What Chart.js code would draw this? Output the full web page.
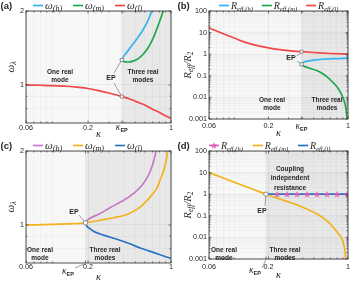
<!DOCTYPE html>
<html>
<head>
<meta charset="utf-8">
<script src="https://cdn.jsdelivr.net/npm/chart.js@4.4.1/dist/chart.umd.min.js"></script>
<style>
  body { margin: 0; background: #fff; }
  #wrap { position: relative; width: 354px; height: 281px; }
  canvas { position: absolute; }
</style>
</head>
<body>
<div id="wrap">
  <canvas id="chart-a" width="177" height="140" style="left:0;top:0"></canvas>
  <canvas id="chart-b" width="177" height="140" style="left:177px;top:0"></canvas>
  <canvas id="chart-c" width="177" height="141" style="left:0;top:140px"></canvas>
  <canvas id="chart-d" width="177" height="141" style="left:177px;top:140px"></canvas>
</div>
<script>
'use strict';

// *********** DATA ****************

// tick positions + labels (log axes)
let kappaTicks = [0.06, 0.07, 0.08, 0.09, 0.1, 0.2, 0.3, 0.4, 0.5, 0.6, 0.7, 0.8, 0.9, 1];
let kappaLabels = {0.06: '0.06', 0.2: '0.2', 1: '1'};
let omegaTicks = [0.8, 0.9, 1, 2];
let omegaLabels = {1: '1', 2: '2'};
let reffTicks = [0.001, 0.002, 0.003, 0.004, 0.005, 0.006, 0.007, 0.008, 0.009,
  0.01, 0.02, 0.03, 0.04, 0.05, 0.06, 0.07, 0.08, 0.09,
  0.1, 0.2, 0.3, 0.4, 0.5, 0.6, 0.7, 0.8, 0.9,
  1, 2, 3, 4, 5, 6, 7, 8, 9, 10, 20, 30, 40, 50, 60, 70, 80, 90, 100];
let reffLabels = {0.001: '0.001', 0.01: '0.01', 0.1: '0.1', 1: '1', 10: '10', 100: '100'};

// (a) frequencies, kappa_EP ~ 0.385
let kappaEpA = 0.385;
let aKappaH = [0.385, 0.40, 0.43, 0.47, 0.52, 0.57, 0.63, 0.69];
let aOmegaH = [1.264, 1.31, 1.37, 1.45, 1.55, 1.65, 1.80, 2.0];
let aKappaM = [0.385, 0.395, 0.41, 0.44, 0.48, 0.53, 0.58, 0.65, 0.72, 0.78, 0.83, 0.86];
let aOmegaM = [1.264, 1.248, 1.241, 1.240, 1.25, 1.28, 1.33, 1.43, 1.58, 1.75, 1.90, 2.0];
let aKappaL = [0.06, 0.08, 0.1, 0.13, 0.16, 0.2, 0.25, 0.3, 0.385, 0.45, 0.5, 0.6, 0.7, 0.8, 0.9, 1];
let aOmegaL = [1.0, 0.997, 0.994, 0.988, 0.979, 0.967, 0.946, 0.927, 0.897, 0.877, 0.858, 0.829, 0.797, 0.772, 0.749, 0.73];
let aEpKappa = [0.385, 0.385];
let aEpOmega = [1.264, 0.897];

// (b) effective resistance
let kappaEpB = 0.39;
let bKappaH = [0.39, 0.395, 0.405, 0.42, 0.45, 0.5, 0.6, 0.75, 1];
let bReffH = [0.34, 0.38, 0.42, 0.455, 0.495, 0.535, 0.585, 0.625, 0.65];
let bKappaM = [0.39, 0.40, 0.42, 0.46, 0.53, 0.6, 0.65, 0.72, 0.8, 0.87, 0.92, 0.96, 0.98];
let bReffM = [0.34, 0.30, 0.265, 0.225, 0.175, 0.125, 0.092, 0.056, 0.031, 0.015, 0.0076, 0.003, 0.001];
let bKappaL = [0.06, 0.07, 0.08, 0.1, 0.122, 0.15, 0.2, 0.25, 0.3, 0.39, 0.5, 0.7, 1];
let bReffL = [16.5, 11.8, 8.8, 5.6, 3.7, 2.7, 1.95, 1.62, 1.46, 1.31, 1.2, 1.08, 1.0];
let bEpKappa = [0.39, 0.39];
let bEpReff = [1.31, 0.34];

// (c) frequencies, kappa_EP ~ 0.19
let kappaEpC = 0.19;
let cKappaH = [0.19, 0.195, 0.205, 0.22, 0.25, 0.31, 0.4, 0.49, 0.57, 0.64, 0.7, 0.75];
let cOmegaH = [1.02, 1.04, 1.06, 1.08, 1.11, 1.18, 1.26, 1.35, 1.45, 1.58, 1.76, 2.0];
let cKappaM = [0.06, 0.1, 0.15, 0.19, 0.25, 0.33, 0.43, 0.52, 0.58, 0.65, 0.72, 0.76, 0.82, 0.87, 0.91, 0.94];
let cOmegaM = [1.0, 1.005, 1.012, 1.02, 1.045, 1.07, 1.105, 1.16, 1.21, 1.28, 1.36, 1.41, 1.55, 1.67, 1.83, 2.0];
let cKappaL = [0.19, 0.195, 0.205, 0.22, 0.27, 0.35, 0.45, 0.55, 0.65, 0.76, 0.88, 1];
let cOmegaL = [1.02, 0.99, 0.97, 0.945, 0.909, 0.874, 0.838, 0.806, 0.784, 0.764, 0.746, 0.73];
let cEpKappa = [0.19];
let cEpOmega = [1.02];

// (d) effective resistance
let kappaEpD = 0.19;
let dKappaStars = [0.238, 0.291, 0.356, 0.436, 0.534, 0.653, 0.8, 0.98];
let dReffH = [1, 1, 1, 1, 1, 1, 1, 1];
let dKappaM = [0.06, 0.1, 0.15, 0.19, 0.25, 0.335, 0.43, 0.53, 0.65, 0.75, 0.82, 0.885, 0.92, 0.945, 0.955];
let dReffM = [10, 3.6, 1.6, 1.0, 0.6, 0.36, 0.21, 0.125, 0.06, 0.028, 0.015, 0.0086, 0.0045, 0.002, 0.001];
let dKappaL = [0.19, 1];
let dReffL = [1, 1];
let dEpKappa = [0.19];
let dEpReff = [1];

// *********** STYLE ****************

const SANS = '"Liberation Sans", Arial, sans-serif';
const SERIF = '"Liberation Serif", "DejaVu Serif", serif';
const INK = '#262626';
const NOTE = 'bold 6.5px ' + SANS;
const EPF = 'bold 7px ' + SANS;

const BLUE = '#35b3ee', GREEN = '#1ea84a', RED = '#f04848';
const PURPLE = '#c47ac6', YELLOW = '#f2b21c', DBLUE = '#2b73c2', PINK = '#e35db5';

// ********** HELPERS ********************

function pts(xs, ys) {
  return xs.map((x, i) => ({x: x, y: ys[i]}));
}

function curve(xs, ys, color) {
  return {data: pts(xs, ys), borderColor: color, borderWidth: 1.7, pointRadius: 0,
    showLine: true, cubicInterpolationMode: 'monotone', fill: false};
}

function epMarks(xs, ys, style) {
  return {data: pts(xs, ys), showLine: false, pointStyle: style, pointRadius: 2.2,
    pointBackgroundColor: '#fff', pointBorderColor: '#777', pointBorderWidth: 0.8};
}

function starImage(color) {
  let c = document.createElement('canvas');
  c.width = 8; c.height = 8;
  let g = c.getContext('2d');
  g.fillStyle = color;
  g.beginPath();
  for (let i = 0; i < 10; i++) {
    let r = i % 2 ? 1.5 : 3.6;
    let ang = -Math.PI / 2 + i * Math.PI / 5;
    g.lineTo(4 + r * Math.cos(ang), 4.3 + r * Math.sin(ang));
  }
  g.closePath();
  g.fill();
  return c;
}

// draw text made of [text, font, dy] pieces
function rich(ctx, segs, x, y, align) {
  let w = 0;
  segs.forEach(s => { ctx.font = s[1]; w += ctx.measureText(s[0]).width; });
  let cx = align === 'center' ? x - w / 2 : (align === 'right' ? x - w : x);
  ctx.textAlign = 'left';
  ctx.textBaseline = 'alphabetic';
  segs.forEach(s => {
    ctx.font = s[1];
    ctx.fillText(s[0], cx, y + (s[2] || 0));
    cx += ctx.measureText(s[0]).width;
  });
  return w;
}

function logAxis(min, max, ticks, labels, pad, fit) {
  return {
    type: 'logarithmic', min: min, max: max,
    afterBuildTicks: s => { s.ticks = ticks.map(v => ({value: v})); },
    afterFit: fit,
    ticks: {autoSkip: false, maxRotation: 0, minRotation: 0, padding: pad, color: INK,
      font: {family: SANS, size: 7.2},
      callback: v => labels[v] !== undefined ? labels[v] : ''},
    grid: {drawTicks: false, lineWidth: 0.6,
      color: c => (c.tick && labels[c.tick.value] !== undefined) ? 'rgba(0,0,0,0.09)' : 'rgba(0,0,0,0.045)'},
    border: {display: false}
  };
}

function makeDecor(spec) {
  return {
    id: 'decor',
    beforeDraw(chart) {
      let {ctx, chartArea: a} = chart;
      let xe = chart.scales.x.getPixelForValue(spec.kEP);
      ctx.save();
      ctx.fillStyle = '#f7f7f7';
      ctx.fillRect(a.left, a.top, a.right - a.left, a.bottom - a.top);
      ctx.fillStyle = '#e8e8e8';
      ctx.fillRect(xe, a.top, a.right - xe, a.bottom - a.top);
      ctx.restore();
    },
    beforeDatasetsDraw(chart) {
      let {ctx, scales: {x, y}} = chart;
      ctx.save();
      ctx.strokeStyle = '#777';
      ctx.lineWidth = 0.7;
      spec.leaders.forEach(l => {
        ctx.beginPath();
        ctx.moveTo(l[0], l[1]);
        ctx.lineTo(x.getPixelForValue(l[2]), y.getPixelForValue(l[3]));
        ctx.stroke();
      });
      ctx.restore();
    },
    afterDraw(chart) {
      let {ctx, chartArea: a, scales: {x, y}} = chart;
      ctx.save();
      // inward tick marks
      ctx.strokeStyle = INK;
      ctx.lineWidth = 0.6;
      ctx.beginPath();
      x.ticks.forEach(t => {
        let px = x.getPixelForValue(t.value);
        let len = kappaLabels[t.value] !== undefined || t.value === spec.kEP ? 2.5 : 1.5;
        ctx.moveTo(px, a.bottom); ctx.lineTo(px, a.bottom - len);
        ctx.moveTo(px, a.top); ctx.lineTo(px, a.top + len);
      });
      y.ticks.forEach(t => {
        let py = y.getPixelForValue(t.value);
        let len = spec.yLabels[t.value] !== undefined ? 2.5 : 1.5;
        ctx.moveTo(a.left, py); ctx.lineTo(a.left + len, py);
        ctx.moveTo(a.right, py); ctx.lineTo(a.right - len, py);
      });
      ctx.stroke();
      // box
      ctx.lineWidth = 0.8;
      ctx.strokeRect(a.left, a.top, a.right - a.left, a.bottom - a.top);

      ctx.fillStyle = INK;
      // panel letter
      ctx.font = 'bold 9.5px ' + SANS;
      ctx.textAlign = 'left';
      ctx.textBaseline = 'alphabetic';
      ctx.fillText(spec.letter, 0.5, 9);

      // notes
      ctx.textAlign = 'center';
      ctx.textBaseline = 'middle';
      spec.notes.forEach(n => {
        ctx.font = n[3] || NOTE;
        ctx.fillText(n[0], n[1], n[2]);
      });

      // kappa_EP tick label
      let kx = spec.kLabel[0] === null ? x.getPixelForValue(spec.kEP) : spec.kLabel[0];
      rich(ctx, [['\u03ba', 'italic 9.5px ' + SERIF], ['EP', 'bold 5.5px ' + SANS, 2.2]], kx, spec.kLabel[1], 'center');
      if (spec.kLabel[0] !== null) {
        ctx.strokeStyle = '#777';
        ctx.lineWidth = 0.7;
        ctx.beginPath();
        ctx.moveTo(spec.kLabel[2], spec.kLabel[3]);
        ctx.lineTo(x.getPixelForValue(spec.kEP), a.bottom + 0.5);
        ctx.stroke();
      }

      // axis titles
      rich(ctx, [['\u03ba', 'italic 10.5px ' + SERIF]], (a.left + a.right) / 2, spec.xTitleY, 'center');
      ctx.save();
      ctx.translate(spec.yTitleX, (a.top + a.bottom) / 2);
      ctx.rotate(-Math.PI / 2);
      rich(ctx, spec.yTitle, 0, 0, 'center');
      ctx.restore();

      // legend
      let cx = spec.legendX;
      spec.legend.forEach(it => {
        ctx.strokeStyle = it[0];
        ctx.lineWidth = 1.7;
        ctx.beginPath();
        ctx.moveTo(cx, 5.5); ctx.lineTo(cx + 10, 5.5);
        ctx.stroke();
        if (it[3]) ctx.drawImage(it[3], cx + 1, 1.5);
        cx += 12;
        ctx.fillStyle = INK;
        let w = rich(ctx, [[it[1], spec.legendFonts[0]], [it[2], spec.legendFonts[1], 2]], cx, 8.5, 'left');
        cx += w + spec.legendGap;
      });
      ctx.restore();
    }
  };
}

function makeChart(id, spec) {
  let xTicks = kappaTicks.concat([spec.kEP]).sort((p, q) => p - q);
  return new Chart(document.getElementById(id), {
    type: 'scatter',
    data: {datasets: spec.datasets},
    options: {
      responsive: false, animation: false, devicePixelRatio: 1,
      layout: {padding: {left: 0, right: 6, top: 11, bottom: 0}},
      plugins: {legend: {display: false}, tooltip: {enabled: false}},
      scales: {
        x: logAxis(0.06, 1, xTicks, kappaLabels, spec.xPad, s => { s.height = spec.xh; }),
        y: logAxis(spec.ymin, spec.ymax, spec.yTicks, spec.yLabels, 2, s => { s.width = spec.yw; })
      }
    },
    plugins: [makeDecor(spec)]
  });
}

// ********** CHARTS ********************

let omegaTitle = [['\u03c9', 'italic 11px ' + SERIF], ['\u03bb', 'italic 8px ' + SERIF, 2]];
let reffTitle = [['R', 'italic 10.5px ' + SERIF], ['eff', 'italic 7.5px ' + SERIF, 2],
  ['/R', 'italic 10.5px ' + SERIF], ['2', '7.5px ' + SERIF, 2]];
let omegaLegendFonts = ['italic 11px ' + SERIF, 'italic 8px ' + SERIF];
let reffLegendFonts = ['italic 10px ' + SERIF, 'italic 6.5px ' + SERIF];
let pinkStar = starImage(PINK);

makeChart('chart-a', {
  letter: '(a)', kEP: kappaEpA, yw: 26, xh: 17, xPad: 1,
  ymin: 0.73, ymax: 2, yTicks: omegaTicks, yLabels: omegaLabels,
  datasets: [
    epMarks(aEpKappa, aEpOmega, 'rect'),
    curve(aKappaH, aOmegaH, BLUE),
    curve(aKappaM, aOmegaM, GREEN),
    curve(aKappaL, aOmegaL, RED)
  ],
  leaders: [[114, 73, aEpKappa[0], aEpOmega[0]], [114, 83, aEpKappa[1], aEpOmega[1]]],
  notes: [['One real', 60, 72], ['mode', 60, 80], ['Three real', 143, 72], ['modes', 143, 80], ['EP', 111, 78, EPF]],
  kLabel: [null, 130], xTitleY: 136.5, yTitleX: 14, yTitle: omegaTitle,
  legendX: 33, legendGap: 11, legendFonts: omegaLegendFonts,
  legend: [[BLUE, '\u03c9', '(h)'], [GREEN, '\u03c9', '(m)'], [RED, '\u03c9', '(l)']]
});

makeChart('chart-b', {
  letter: '(b)', kEP: kappaEpB, yw: 32, xh: 21, xPad: 3,
  ymin: 0.001, ymax: 100, yTicks: reffTicks, yLabels: reffLabels,
  datasets: [
    epMarks(bEpKappa, bEpReff, 'rect'),
    curve(bKappaH, bReffH, BLUE),
    curve(bKappaM, bReffM, GREEN),
    curve(bKappaL, bReffL, RED)
  ],
  leaders: [[120, 56, bEpKappa[0], bEpReff[0]], [120, 61, bEpKappa[1], bEpReff[1]]],
  notes: [['One real', 95, 100], ['mode', 95, 108], ['Three real', 150, 100], ['modes', 150, 108], ['EP', 114, 58.5, EPF]],
  kLabel: [null, 128.5], xTitleY: 136, yTitleX: 14, yTitle: reffTitle,
  legendX: 42, legendGap: 9, legendFonts: reffLegendFonts,
  legend: [[BLUE, 'R', 'eff,(h)'], [GREEN, 'R', 'eff,(m)'], [RED, 'R', 'eff,(l)']]
});

makeChart('chart-c', {
  letter: '(c)', kEP: kappaEpC, yw: 26, xh: 18, xPad: 0,
  ymin: 0.73, ymax: 2, yTicks: omegaTicks, yLabels: omegaLabels,
  datasets: [
    epMarks(cEpKappa, cEpOmega, 'circle'),
    curve(cKappaH, cOmegaH, PURPLE),
    curve(cKappaM, cOmegaM, YELLOW),
    curve(cKappaL, cOmegaL, DBLUE)
  ],
  leaders: [[79, 75, cEpKappa[0], cEpOmega[0]]],
  notes: [['One real', 40, 110], ['mode', 40, 118], ['Three real', 105, 110], ['modes', 105, 118], ['EP', 74, 72, EPF]],
  kLabel: [68, 133.5, 75, 128], xTitleY: 139.5, yTitleX: 14, yTitle: omegaTitle,
  legendX: 33, legendGap: 11, legendFonts: omegaLegendFonts,
  legend: [[PURPLE, '\u03c9', '(h)'], [YELLOW, '\u03c9', '(m)'], [DBLUE, '\u03c9', '(l)']]
});

makeChart('chart-d', {
  letter: '(d)', kEP: kappaEpD, yw: 32, xh: 22, xPad: 4,
  ymin: 0.001, ymax: 100, yTicks: reffTicks, yLabels: reffLabels,
  datasets: [
    epMarks(dEpKappa, dEpReff, 'circle'),
    {data: pts(dKappaStars, dReffH), showLine: false, pointStyle: pinkStar, pointRadius: 3},
    curve(dKappaL, dReffL, DBLUE),
    curve(dKappaM, dReffM, YELLOW)
  ],
  leaders: [[88, 66, dEpKappa[0], dEpReff[0]]],
  notes: [['Coupling', 113, 29], ['independent', 113, 38.5], ['resistance', 113, 48],
    ['One real', 47, 110], ['mode', 47, 118], ['Three real', 108, 110], ['modes', 108, 118], ['EP', 85, 71, EPF]],
  kLabel: [78, 133, 85, 128], xTitleY: 138, yTitleX: 14, yTitle: reffTitle,
  legendX: 32, legendGap: 10, legendFonts: reffLegendFonts,
  legend: [[PINK, 'R', 'eff,(h)', pinkStar], [YELLOW, 'R', 'eff,(m)'], [DBLUE, 'R', 'eff,(l)']]
});
</script>
</body>
</html>
